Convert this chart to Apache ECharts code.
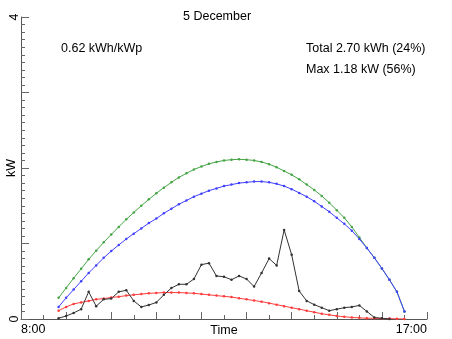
<!DOCTYPE html>
<html>
<head>
<meta charset="utf-8">
<script src="https://cdn.jsdelivr.net/npm/echarts@6/dist/echarts.min.js"></script>
<style>html,body{margin:0;padding:0;background:#fff;}#c{width:452px;height:339px;}</style>
</head>
<body>
<div id="c"></div>
<script>
// Time of each sample, minutes after midnight (8:50 ... 16:30, every 10 min)
const times = [530,540,550,560,570,580,590,600,610,620,630,640,650,660,670,680,690,700,710,720,
  730,740,750,760,770,780,790,800,810,820,830,840,850,860,870,880,890,900,910,920,
  930,940,950,960,970,980,990];
// Clear-sky model (green), kW
const greenVals = [0.28,0.41,0.54,0.665,0.79,0.905,1.015,1.12,1.22,1.32,
  1.41,1.50,1.585,1.665,1.74,1.81,1.875,1.93,1.98,2.02,
  2.055,2.08,2.10,2.11,2.115,2.11,2.10,2.08,2.05,2.01,
  1.96,1.91,1.85,1.78,1.71,1.63,1.54,1.44,1.34,1.22,
  1.08,0.94,0.81,0.67,0.52,0.36,0.10];
// Expected (blue), kW
const blueVals = [0.16,0.28,0.39,0.50,0.61,0.71,0.81,0.90,0.98,1.06,
  1.13,1.20,1.27,1.33,1.40,1.46,1.52,1.57,1.62,1.66,
  1.70,1.73,1.76,1.78,1.80,1.81,1.82,1.82,1.81,1.79,
  1.76,1.72,1.67,1.62,1.56,1.49,1.42,1.34,1.26,1.17,
  1.06,0.94,0.81,0.67,0.52,0.36,0.10];
// Diffuse / overcast (red), kW
const redVals = [0.11,0.16,0.20,0.22,0.24,0.26,0.27,0.285,0.295,0.31,
  0.32,0.33,0.34,0.345,0.35,0.35,0.35,0.345,0.34,0.33,
  0.32,0.31,0.30,0.29,0.275,0.26,0.245,0.23,0.21,0.19,
  0.17,0.15,0.13,0.11,0.09,0.07,0.055,0.04,0.03,0.02,
  0.015,0.01,0.01,0.005,0.005,0.002,0];
// Measured output (black), kW
const measuredVals = [0.01,0.04,0.08,0.13,0.36,0.17,0.26,0.27,0.36,0.38,
  0.24,0.16,0.185,0.22,0.32,0.41,0.46,0.46,0.53,0.72,
  0.74,0.57,0.56,0.52,0.57,0.53,0.43,0.61,0.80,0.71,
  1.18,0.85,0.37,0.24,0.19,0.15,0.11,0.13,0.15,0.16,
  0.18,0.10,0.02,0.01,0];
const xLabels = {480:'8:00', 1020:'17:00'};
const yLabels = {0:'0', 4:'4'};
const titleText = '5 December';
const infoLeft = '0.62 kWh/kWp';
const infoTotal = 'Total 2.70 kWh (24%)';
const infoMax = 'Max 1.18 kW (56%)';

const FONT = 'Liberation Sans, Arial, Helvetica, sans-serif';
const pair = (vals) => vals.map((v, i) => [times[i], v]);
function mk(name, vals, color) {
  return {
    name, type: 'line', data: pair(vals),
    symbol: 'circle', symbolSize: 2.5,
    itemStyle: {color},
    lineStyle: {color, width: 1},
    emphasis: {disabled: true},
    silent: true
  };
}
const chart = echarts.init(document.getElementById('c'), null, {renderer: 'canvas'});
chart.setOption({
  animation: false,
  backgroundColor: '#fff',
  textStyle: {fontFamily: FONT},
  title: [
    {text: titleText, left: 183, top: 10, padding: 0, textStyle: {fontSize: 12.5, fontWeight: 'normal', color: '#000', fontFamily: FONT}},
    {text: infoLeft, left: 61, top: 42, padding: 0, textStyle: {fontSize: 12.5, fontWeight: 'normal', color: '#000', fontFamily: FONT}},
    {text: infoTotal, left: 306, top: 42, padding: 0, textStyle: {fontSize: 12.5, fontWeight: 'normal', color: '#000', fontFamily: FONT}},
    {text: infoMax, left: 306, top: 63, padding: 0, textStyle: {fontSize: 12.5, fontWeight: 'normal', color: '#000', fontFamily: FONT}}
  ],
  grid: {left: 21, right: 25, top: 17, bottom: 20, containLabel: false, outerBoundsMode: 'none'},
  xAxis: {
    type: 'value', min: 480, max: 1020, interval: 60,
    name: 'Time', nameLocation: 'middle', nameGap: 5, nameMoveOverlap: false,
    nameTextStyle: {fontSize: 12.5, color: '#000', fontFamily: FONT, verticalAlign: 'top'},
    axisLine: {show: true, lineStyle: {color: '#555', width: 1}},
    axisTick: {show: true, inside: true, length: 7, lineStyle: {color: '#666'}},
    minorTick: {show: true, splitNumber: 2, length: 4, lineStyle: {color: '#666'}},
    splitLine: {show: false},
    axisLabel: {
      show: true, margin: 4, fontSize: 12.5, color: '#000', fontFamily: FONT,
      formatter: v => xLabels[v] || '',
      alignMinLabel: 'left', alignMaxLabel: 'right'
    }
  },
  yAxis: {
    type: 'value', min: 0, max: 4, interval: 1,
    name: 'kW', nameLocation: 'middle', nameGap: 3, nameRotate: 90, nameMoveOverlap: false,
    nameTextStyle: {fontSize: 12.5, color: '#000', fontFamily: FONT},
    axisLine: {show: true, lineStyle: {color: '#555', width: 1}},
    axisTick: {show: true, inside: true, length: 8, lineStyle: {color: '#666'}},
    minorTick: {show: true, splitNumber: 10, length: 4, lineStyle: {color: '#666'}},
    splitLine: {show: false},
    axisLabel: {
      show: true, margin: 0, rotate: 90, fontSize: 12.5, color: '#000', fontFamily: FONT,
      formatter: v => (yLabels[v] !== undefined ? yLabels[v] : '')
    }
  },
  series: [
    mk('clear', greenVals, '#45a445'),
    mk('expected', blueVals, '#4040ff'),
    mk('diffuse', redVals, '#ff3c3c'),
    mk('measured', measuredVals, '#333333')
  ]
});
</script>
</body>
</html>
